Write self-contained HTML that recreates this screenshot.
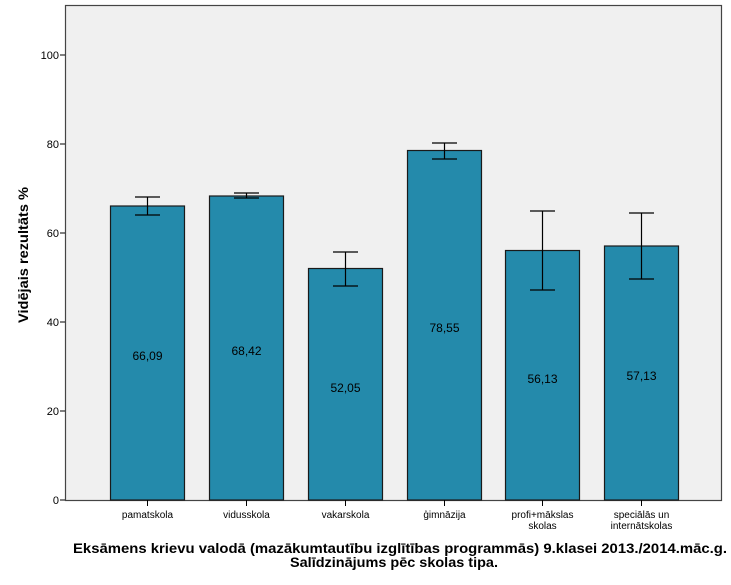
<!DOCTYPE html>
<html><head><meta charset="utf-8"><style>body{margin:0;background:#fff}svg{display:block}</style></head>
<body>
<svg width="731" height="585" xmlns="http://www.w3.org/2000/svg" font-family="Liberation Sans, Arial, sans-serif">
<rect x="65.5" y="5.5" width="656" height="495" fill="#f0f0f0" stroke="#444" stroke-width="1.2"/>
<g stroke="#000" stroke-width="1">
<line x1="60" y1="500" x2="65" y2="500"/><line x1="60" y1="411" x2="65" y2="411"/><line x1="60" y1="322" x2="65" y2="322"/><line x1="60" y1="233" x2="65" y2="233"/><line x1="60" y1="144" x2="65" y2="144"/><line x1="60" y1="55" x2="65" y2="55"/>
</g>
<g font-size="11" text-anchor="end" fill="#000">
<text x="59" y="504">0</text><text x="59" y="415">20</text><text x="59" y="326">40</text><text x="59" y="237">60</text><text x="59" y="148">80</text><text x="59" y="59">100</text>
</g>
<text transform="translate(28,255) rotate(-90)" font-size="14" font-weight="bold" text-anchor="middle" textLength="136" lengthAdjust="spacingAndGlyphs">Vidējais rezultāts %</text>
<g fill="#248aab" stroke="#1a1a1a" stroke-width="1.2">
<rect x="110.5" y="206" width="74" height="294"/>
<rect x="209.5" y="196" width="74" height="304"/>
<rect x="308.5" y="268.5" width="74" height="231.5"/>
<rect x="407.5" y="150.5" width="74" height="349.5"/>
<rect x="505.5" y="250.5" width="74" height="249.5"/>
<rect x="604.5" y="246" width="74" height="254"/>
</g>
<g stroke="#000" stroke-width="1.2" fill="none">
<path d="M147.5 197V215M135 197H160M135 215H160"/>
<path d="M246.5 193V198M234 193H259M234 198H259"/>
<path d="M345.5 252V286M333 252H358M333 286H358"/>
<path d="M444.5 143V159M432 143H457M432 159H457"/>
<path d="M542.5 211V290M530 211H555M530 290H555"/>
<path d="M641.5 213V279M629 213H654M629 279H654"/>
</g>
<g font-size="12" text-anchor="middle">
<text x="147.5" y="360">66,09</text><text x="246.5" y="355">68,42</text><text x="345.5" y="392">52,05</text><text x="444.5" y="332">78,55</text><text x="542.5" y="383">56,13</text><text x="641.5" y="380">57,13</text>
</g>
<g stroke="#000"><path d="M147.5 500V506M246.5 500V506M345.5 500V506M444.5 500V506M542.5 500V506M641.5 500V506"/></g>
<g font-size="10" text-anchor="middle">
<text x="147.5" y="518">pamatskola</text><text x="246.5" y="518">vidusskola</text><text x="345.5" y="518">vakarskola</text><text x="444.5" y="518">ģimnāzija</text>
<text x="542.5" y="518">profi+mākslas</text><text x="542.5" y="529">skolas</text>
<text x="641.5" y="518">speciālās un</text><text x="641.5" y="529">internātskolas</text>
</g>
<g font-size="14" font-weight="bold" text-anchor="middle">
<text x="400" y="553" textLength="654" lengthAdjust="spacingAndGlyphs">Eksāmens krievu valodā (mazākumtautību izglītības programmās) 9.klasei 2013./2014.māc.g.</text>
<text x="394" y="567" textLength="208" lengthAdjust="spacingAndGlyphs">Salīdzinājums pēc skolas tipa.</text>
</g>
</svg>
</body></html>
